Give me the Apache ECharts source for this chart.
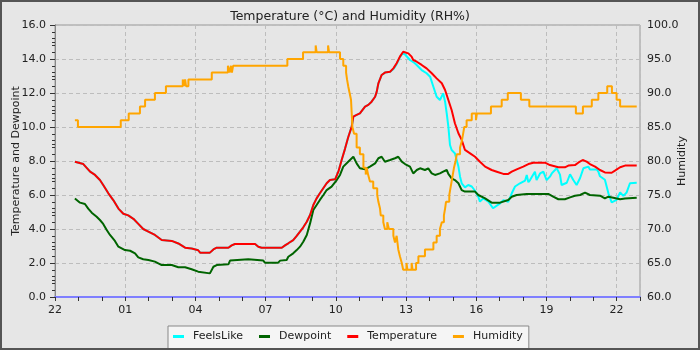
<!DOCTYPE html>
<html><head><meta charset="utf-8">
<script src="https://cdn.jsdelivr.net/npm/echarts@6/dist/echarts.min.js"></script>
<style>html,body{margin:0;padding:0;background:#e6e6e6}#c{width:700px;height:350px}</style>
</head><body><div id="c"></div><script>
// x values: hours since 22:00 of the first day
const chartTitle = 'Temperature (°C) and Humidity (RH%)';
const leftAxisName = 'Temperature and Dewpoint';
const rightAxisName = 'Humidity';
const startHour = 22;

const temperature = [[0.85,7.96],[1.21,7.82],[1.50,7.37],[1.71,7.18],[1.92,6.88],[2.06,6.59],[2.28,6.10],[2.49,5.70],[2.71,5.20],[2.92,4.90],[3.13,4.80],[3.35,4.60],[3.56,4.30],[3.77,4.00],[3.99,3.85],[4.27,3.65],[4.56,3.35],[4.99,3.30],[5.27,3.15],[5.56,2.90],[5.84,2.85],[6.12,2.75],[6.20,2.61],[6.62,2.61],[6.77,2.80],[6.91,2.90],[7.41,2.90],[7.55,3.04],[7.69,3.12],[8.55,3.12],[8.69,2.96],[8.83,2.90],[9.69,2.90],[9.83,3.04],[9.97,3.16],[10.18,3.35],[10.33,3.59],[10.47,3.84],[10.61,4.10],[10.76,4.43],[10.90,4.82],[11.04,5.41],[11.18,5.80],[11.32,6.10],[11.61,6.69],[11.75,6.88],[11.97,6.92],[12.11,7.37],[12.25,8.06],[12.39,8.70],[12.53,9.40],[12.68,10.02],[12.75,10.61],[12.89,10.71],[13.03,10.80],[13.25,11.20],[13.39,11.30],[13.53,11.49],[13.68,11.78],[13.75,12.08],[13.82,12.57],[13.96,13.06],[14.10,13.20],[14.32,13.25],[14.46,13.45],[14.60,13.75],[14.74,14.14],[14.88,14.43],[14.96,14.53],[15.10,14.33],[15.24,14.14],[15.31,13.94],[15.46,13.84],[15.67,13.65],[15.88,13.45],[16.10,13.16],[16.31,12.86],[16.53,12.57],[16.67,12.18],[16.81,11.59],[16.95,11.00],[17.09,10.22],[17.24,9.63],[17.38,9.24],[17.52,8.65],[17.74,8.45],[17.95,8.25],[18.16,7.96],[18.38,7.67],[18.66,7.47],[18.88,7.37],[19.16,7.24],[19.37,7.24],[19.52,7.37],[19.73,7.51],[20.01,7.67],[20.23,7.82],[20.44,7.90],[20.94,7.90],[21.15,7.76],[21.51,7.63],[21.79,7.63],[21.94,7.73],[22.22,7.76],[22.36,7.90],[22.55,8.06],[22.72,7.96],[22.86,7.82],[23.08,7.67],[23.29,7.47],[23.50,7.33],[23.79,7.31],[23.93,7.43],[24.15,7.63],[24.36,7.73],[24.86,7.73]];

const feelsLike = [[0.85,7.96],[1.21,7.82],[1.50,7.37],[1.71,7.18],[1.92,6.88],[2.06,6.59],[2.28,6.10],[2.49,5.70],[2.71,5.20],[2.92,4.90],[3.13,4.80],[3.35,4.60],[3.56,4.30],[3.77,4.00],[3.99,3.85],[4.27,3.65],[4.56,3.35],[4.99,3.30],[5.27,3.15],[5.56,2.90],[5.84,2.85],[6.12,2.75],[6.20,2.61],[6.62,2.61],[6.77,2.80],[6.91,2.90],[7.41,2.90],[7.55,3.04],[7.69,3.12],[8.55,3.12],[8.69,2.96],[8.83,2.90],[9.69,2.90],[9.83,3.04],[9.97,3.16],[10.18,3.35],[10.33,3.59],[10.47,3.84],[10.61,4.10],[10.76,4.43],[10.90,4.82],[11.04,5.41],[11.18,5.80],[11.32,6.10],[11.61,6.69],[11.75,6.88],[11.97,6.92],[12.11,7.37],[12.25,8.06],[12.39,8.70],[12.53,9.40],[12.68,10.02],[12.75,10.61],[12.89,10.71],[13.03,10.80],[13.25,11.20],[13.39,11.30],[13.53,11.49],[13.68,11.78],[13.75,12.08],[13.82,12.57],[13.96,13.06],[14.10,13.20],[14.32,13.25],[14.46,13.40],[14.60,13.70],[14.74,14.10],[14.88,14.38],[14.96,14.48],[15.17,13.94],[15.38,13.75],[15.67,13.35],[15.88,13.16],[16.03,12.96],[16.17,12.37],[16.31,11.78],[16.45,11.59],[16.59,11.98],[16.67,11.49],[16.74,10.80],[16.81,10.02],[16.88,8.94],[16.95,8.65],[17.09,8.45],[17.24,7.67],[17.31,7.08],[17.38,6.69],[17.52,6.45],[17.66,6.59],[17.81,6.50],[17.95,6.25],[18.09,5.90],[18.16,5.61],[18.30,5.80],[18.52,5.61],[18.59,5.60],[18.72,5.22],[19.02,5.51],[19.16,5.70],[19.37,5.60],[19.52,6.10],[19.66,6.50],[19.87,6.69],[20.09,6.85],[20.16,7.18],[20.23,6.75],[20.30,6.88],[20.51,7.37],[20.58,6.88],[20.73,7.27],[20.87,7.37],[21.01,6.88],[21.15,7.08],[21.23,7.27],[21.44,7.57],[21.58,7.20],[21.65,6.59],[21.87,6.72],[22.01,7.22],[22.15,6.88],[22.29,6.59],[22.44,7.00],[22.58,7.57],[22.79,7.67],[22.86,7.50],[23.15,7.50],[23.22,7.37],[23.29,7.10],[23.50,6.90],[23.65,6.10],[23.79,5.56],[24.00,5.71],[24.15,6.15],[24.29,5.95],[24.43,6.15],[24.57,6.69],[24.86,6.72]];

const dewpoint = [[0.85,5.80],[1.07,5.55],[1.28,5.47],[1.42,5.20],[1.57,4.96],[1.78,4.72],[1.92,4.53],[2.06,4.30],[2.21,3.94],[2.35,3.65],[2.56,3.30],[2.71,2.96],[2.85,2.86],[2.99,2.76],[3.21,2.72],[3.42,2.57],[3.56,2.33],[3.77,2.22],[3.99,2.18],[4.27,2.08],[4.56,1.88],[4.99,1.88],[5.27,1.75],[5.56,1.75],[5.84,1.63],[6.12,1.49],[6.20,1.39],[6.62,1.39],[6.77,1.78],[6.91,1.88],[7.41,1.92],[7.48,2.14],[8.26,2.22],[8.90,2.14],[8.97,2.02],[9.54,2.02],[9.62,2.14],[9.90,2.18],[9.97,2.37],[10.18,2.57],[10.33,2.76],[10.47,2.96],[10.61,3.25],[10.76,3.65],[10.90,4.33],[11.04,5.12],[11.18,5.41],[11.32,5.71],[11.47,6.00],[11.61,6.29],[11.82,6.49],[12.04,6.88],[12.18,7.18],[12.32,7.67],[12.53,7.96],[12.61,8.06],[12.75,8.25],[12.89,7.86],[13.03,7.57],[13.25,7.51],[13.46,7.67],[13.68,7.86],[13.82,8.16],[13.96,8.25],[14.10,7.96],[14.32,8.06],[14.53,8.16],[14.67,8.25],[14.82,7.96],[14.96,7.82],[15.17,7.67],[15.31,7.27],[15.46,7.47],[15.60,7.57],[15.81,7.47],[15.95,7.57],[16.10,7.27],[16.24,7.18],[16.45,7.27],[16.59,7.37],[16.74,7.47],[16.81,7.24],[16.95,6.98],[17.09,6.88],[17.24,6.69],[17.38,6.29],[17.52,6.20],[17.95,6.20],[18.09,6.00],[18.38,5.80],[18.66,5.55],[19.02,5.55],[19.37,5.71],[19.52,5.90],[19.73,6.00],[20.16,6.06],[21.08,6.06],[21.29,5.90],[21.51,5.75],[21.79,5.75],[22.01,5.86],[22.22,5.96],[22.44,6.00],[22.65,6.14],[22.86,6.00],[23.29,5.96],[23.50,5.80],[23.65,5.90],[23.86,5.84],[24.15,5.75],[24.36,5.80],[24.86,5.84]];

// humidity: value held from each time until the next one
const humidity = [[0.85,86],[0.98,85],[2.81,86],[3.15,87],[3.63,88],[3.85,89],[4.27,90],[4.74,91],[5.46,92],[5.51,91],[5.56,92],[5.60,91],[5.70,92],[6.70,93],[7.39,94],[7.46,93],[7.52,94],[7.56,93],[7.61,94],[9.93,95],[10.60,96],[11.14,97],[11.18,96],[11.67,97],[11.71,96],[12.18,95],[12.32,94],[12.44,93],[12.48,92],[12.53,91],[12.59,90],[12.65,89],[12.71,85],[12.78,84],[12.89,82],[13.03,81],[13.18,79],[13.28,78],[13.32,79],[13.38,78],[13.46,77],[13.60,76],[13.77,75],[13.82,74],[13.89,73],[13.92,72],[14.03,71],[14.10,70],[14.20,71],[14.27,70],[14.46,69],[14.53,68],[14.60,69],[14.67,67],[14.74,66],[14.82,65],[14.88,64],[15.02,65],[15.06,64],[15.24,65],[15.28,64],[15.43,65],[15.53,66],[15.81,67],[16.17,68],[16.31,69],[16.45,70],[16.53,71],[16.62,72],[16.67,73],[16.71,74],[16.85,75],[16.90,76],[16.95,77],[17.00,78],[17.05,79],[17.12,80],[17.17,81],[17.31,82],[17.39,83],[17.44,84],[17.49,85],[17.59,86],[17.81,87],[17.99,86],[18.03,87],[18.63,88],[19.09,89],[19.35,90],[19.91,89],[20.27,88],[22.26,87],[22.56,88],[22.94,89],[23.22,90],[23.60,91],[23.80,90],[24.00,89],[24.15,88],[24.86,88]];

const font = 'DejaVu Sans';
const txt = '#222';
const chart = echarts.init(document.getElementById('c'), null, {renderer: 'canvas'});
const dashed = {show: true, lineStyle: {color: '#bdbdbd', type: [4, 3], width: 1}};
chart.setOption({
  animation: false,
  backgroundColor: '#e6e6e6',
  textStyle: {fontFamily: font},
  title: {text: chartTitle, left: 'center', top: 5,
    textStyle: {fontFamily: font, fontSize: 12.5, fontWeight: 'normal', color: txt}},
  graphic: [{type: 'rect', shape: {x: 1, y: 1, width: 698, height: 348},
    style: {fill: 'none', stroke: '#555', lineWidth: 2}, z: 100, silent: true}],
  grid: {left: 55, right: 60, top: 25, bottom: 53, show: true, containLabel: false,
    outerBoundsMode: 'none',
    backgroundColor: '#e6e6e6', borderColor: '#999', borderWidth: 1},
  legend: {left: 168, top: 326, orient: 'horizontal', icon: 'rect',
    itemWidth: 11, itemHeight: 3, itemGap: 16,
    backgroundColor: '#f5f5f5', borderColor: '#888', borderWidth: 1, borderRadius: 0,
    padding: [5, 6, 8, 5],
    textStyle: {fontFamily: font, fontSize: 11, color: txt, padding: [0, 0, 0, 4]},
    data: ['FeelsLike', 'Dewpoint', 'Temperature', 'Humidity']},
  xAxis: [{
    type: 'value', min: 0, max: 25, interval: 1,
    axisLine: {show: true, onZero: false, lineStyle: {color: '#7f7fff', width: 2}},
    axisTick: {show: true, length: 4, lineStyle: {color: '#333'}},
    axisLabel: {fontFamily: font, fontSize: 11, color: txt, margin: 8,
      formatter: v => (v % 3 === 0 && v < 25) ? String((startHour + v) % 24).padStart(2, '0') : ''},
    splitLine: {show: false}
  }, {
    type: 'value', min: 0, max: 25, interval: 3, position: 'top',
    axisLine: {show: false}, axisTick: {show: false}, axisLabel: {show: false},
    splitLine: dashed
  }],
  yAxis: [{
    type: 'value', min: 0, max: 16, interval: 2,
    name: leftAxisName, nameLocation: 'middle', nameGap: 33, nameMoveOverlap: false,
    nameTextStyle: {fontFamily: font, fontSize: 11, color: txt},
    axisLine: {show: true, lineStyle: {color: '#888'}},
    axisTick: {show: true, length: 5, lineStyle: {color: '#333'}},
    minorTick: {show: true, splitNumber: 2, length: 3, lineStyle: {color: '#333'}},
    axisLabel: {fontFamily: font, fontSize: 11, color: txt, margin: 9, formatter: v => v.toFixed(1)},
    splitLine: dashed
  }, {
    type: 'value', min: 60, max: 100, interval: 5, position: 'right',
    name: rightAxisName, nameLocation: 'middle', nameGap: 37, nameMoveOverlap: false,
    nameTextStyle: {fontFamily: font, fontSize: 11, color: txt},
    axisLine: {show: true, lineStyle: {color: '#888'}},
    axisTick: {show: true, inside: true, length: 5, lineStyle: {color: '#333'}},
    minorTick: {show: true, splitNumber: 5, length: 3, lineStyle: {color: '#333'}},
    axisLabel: {fontFamily: font, fontSize: 11, color: txt, margin: 7, formatter: v => v.toFixed(1)},
    splitLine: {show: false}
  }],
  series: [
    {name: 'FeelsLike', type: 'line', data: feelsLike, showSymbol: false, symbol: 'none',
      color: '#00ffff', lineStyle: {color: '#00ffff', width: 2}},
    {name: 'Dewpoint', type: 'line', data: dewpoint, showSymbol: false, symbol: 'none',
      color: '#006400', lineStyle: {color: '#006400', width: 2}},
    {name: 'Temperature', type: 'line', data: temperature, showSymbol: false, symbol: 'none',
      color: '#ff0000', lineStyle: {color: '#ff0000', width: 2}},
    {name: 'Humidity', type: 'line', yAxisIndex: 1, step: 'end', data: humidity, showSymbol: false, symbol: 'none',
      color: '#ffa500', lineStyle: {color: '#ffa500', width: 2}}
  ]
});
</script></body></html>
